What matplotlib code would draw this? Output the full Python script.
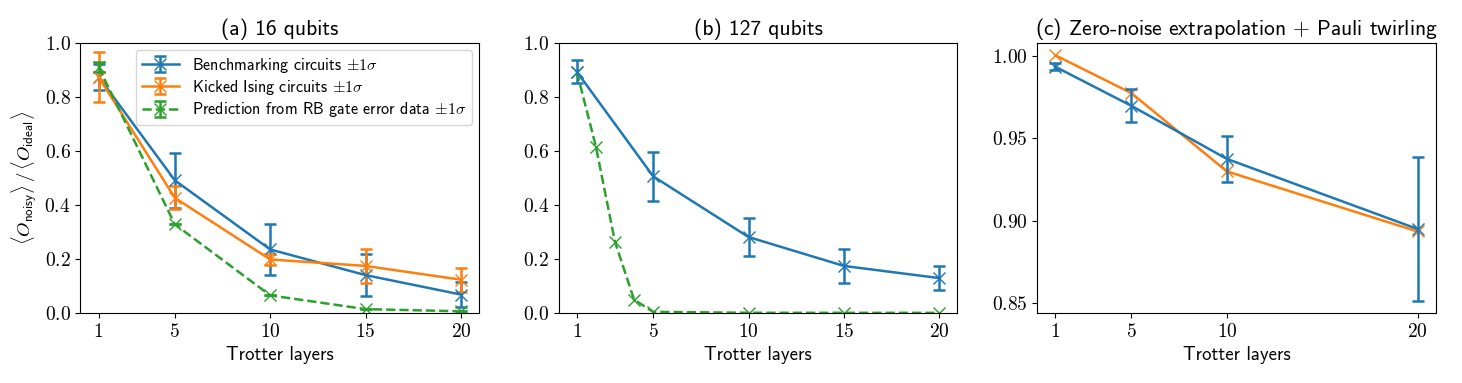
import numpy as np
import matplotlib
matplotlib.use('Agg')
import matplotlib.pyplot as plt

plt.rcParams['font.family'] = ['cmss10', 'DejaVu Sans']
plt.rcParams['mathtext.fontset'] = 'cm'
plt.rcParams['axes.unicode_minus'] = False

# (a) 16 qubits
layers_a = [1, 5, 10, 15, 20]
bench_a = [0.875, 0.491, 0.235, 0.140, 0.068]
bench_a_err = [0.048, 0.102, 0.095, 0.078, 0.045]
ising_a = [0.874, 0.426, 0.198, 0.174, 0.123]
ising_a_err = [0.093, 0.043, 0.022, 0.062, 0.045]
pred_a = [0.911, 0.328, 0.065, 0.014, 0.006]
pred_a_err = [0.020, 0.0, 0.0, 0.0, 0.0]

# (b) 127 qubits
layers_b = [1, 5, 10, 15, 20]
bench_b = [0.893, 0.506, 0.281, 0.174, 0.129]
bench_b_err = [0.043, 0.091, 0.071, 0.062, 0.046]
layers_pred_b = [1, 2, 3, 4, 5, 10, 15, 20]
pred_b = [0.893, 0.615, 0.263, 0.049, 0.004, 0.0005, 0.0003, 0.0002]

# (c) ZNE + Pauli twirling
layers_c = [1, 5, 10, 20]
bench_c = [0.9936, 0.9698, 0.9376, 0.8950]
bench_c_err = [0.002, 0.010, 0.014, 0.0435]
ising_c = [1.0006, 0.9775, 0.9300, 0.8935]

blue, orange, green = '#1f77b4', '#ff7f0e', '#2ca02c'
lw = 1.8
ms = 9
cs = 4

def tick_fmt(axis, fmt):
    axis.set_major_formatter(plt.FuncFormatter(lambda v, _: '$' + fmt.format(v) + '$'))

fig, axes = plt.subplots(1, 3, figsize=(14.62, 3.83), dpi=100)
fig.subplots_adjust(left=0.055, right=0.982, top=0.888, bottom=0.183, wspace=0.2)

ax = axes[0]
ax.errorbar(layers_a, bench_a, yerr=bench_a_err, color=blue, marker='x', ms=ms, lw=lw,
            capsize=cs, elinewidth=lw, capthick=lw, label=r'Benchmarking circuits $\pm1\sigma$')
ax.errorbar(layers_a, ising_a, yerr=ising_a_err, color=orange, marker='x', ms=ms, lw=lw,
            capsize=cs, elinewidth=lw, capthick=lw, label=r'Kicked Ising circuits $\pm1\sigma$')
ax.errorbar(layers_a, pred_a, yerr=pred_a_err, color=green, marker='x', ms=ms, lw=lw, ls='--',
            capsize=cs, elinewidth=lw, capthick=lw,
            label=r'Prediction from RB gate error data $\pm1\sigma$')
ax.set_ylim(0, 1)
ax.set_xticks(layers_a)
ax.set_title('(a) 16 qubits', fontsize=15.5)
ax.set_ylabel(r'$\langle O_{\mathsf{noisy}}\rangle\,/\,\langle O_{\mathsf{ideal}}\rangle$', fontsize=13.5)
ax.legend(loc='upper right', fontsize=11.6, borderaxespad=0.45, handlelength=2.3,
          labelspacing=0.2, borderpad=0.35)

ax = axes[1]
ax.errorbar(layers_b, bench_b, yerr=bench_b_err, color=blue, marker='x', ms=ms, lw=lw,
            capsize=cs, elinewidth=lw, capthick=lw)
ax.plot(layers_pred_b, pred_b, color=green, marker='x', ms=ms, lw=lw, ls='--')
ax.set_ylim(0, 1)
ax.set_xticks(layers_b)
ax.set_title('(b) 127 qubits', fontsize=15.5)

ax = axes[2]
ax.plot(layers_c, ising_c, color=orange, marker='x', ms=ms, lw=lw)
ax.errorbar(layers_c, bench_c, yerr=bench_c_err, color=blue, marker='x', ms=ms, lw=lw,
            capsize=cs, elinewidth=lw, capthick=lw)
ax.set_xticks(layers_c)
ax.set_yticks([0.85, 0.90, 0.95, 1.00])
ax.set_title(r'(c) Zero-noise extrapolation $+$ Pauli twirling', fontsize=15.5)

for i, ax in enumerate(axes):
    ax.set_xlabel('Trotter layers', fontsize=13.5)
    ax.tick_params(labelsize=14)
    tick_fmt(ax.xaxis, '{:.0f}')
    tick_fmt(ax.yaxis, '{:.2f}' if i == 2 else '{:.1f}')

fig.savefig('out.png', dpi=100)
